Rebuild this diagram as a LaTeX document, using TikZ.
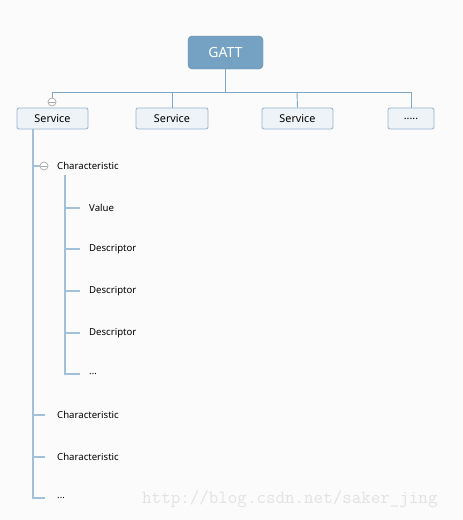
\documentclass[tikz,border=0pt]{standalone}
\usepackage{fontspec}
\setmainfont{Noto Sans}
\usetikzlibrary{calc}
\begin{document}
\begin{tikzpicture}[x=1pt,y=-1pt,
  conn/.style={draw=linec, line width=0.9pt},
  tree/.style={draw=treec, line width=1.1pt},
  svc/.style={draw=svcborder, fill=svcfill, rounded corners=2pt, line width=0.8pt, minimum height=21pt, inner sep=0pt, font=\fontsize{10.8}{12}\selectfont},
  lbl/.style={anchor=west, inner sep=0pt, font=\fontsize{9.6}{11}\selectfont},
  tog/.style={circle, draw=gray!70, fill=white, line width=0.7pt, minimum size=8pt, inner sep=0pt}]
\definecolor{linec}{HTML}{7FA6C4}
\definecolor{treec}{HTML}{A3C0D9}
\definecolor{svcborder}{HTML}{93B4CD}
\definecolor{svcfill}{HTML}{EEF3F7}
\definecolor{gattfill}{HTML}{75A2C3}
\definecolor{bg}{HTML}{FBFBFB}
\fill[bg] (0,0) rectangle (463,520);
\useasboundingbox (0,0) rectangle (463,520);
% root
\node[draw=gattfill!85!black, fill=gattfill, rounded corners=4pt, minimum width=75pt, minimum height=33pt, text=white, font=\fontsize{14}{16}\selectfont] (gatt) at (225.5,52.5) {GATT};
% services
\node[svc, minimum width=71pt] (s1) at (52.5,118.5) {Service};
\node[svc, minimum width=72pt] (s2) at (172,118.5) {Service};
\node[svc, minimum width=71pt] (s3) at (297.5,118.5) {Service};
\node[svc, minimum width=46pt] (s4) at (411,118.5) {.....};
\coordinate (bus) at (225.5,92);
\draw[conn] (gatt.south) -- (bus);
\draw[conn] (52,92) -- (411,92);
\node[tog] (t1) at (52,102) {};
\draw[conn] (52,92) -- (t1.north);
\draw[conn] (172,92) -- (s2.north);
\draw[conn] (297,92) -- (s3.north);
\draw[conn] (411,92) -- (s4.north);
\draw[gray!70, line width=0.7pt] ($(t1.west)+(1.8,0)$) -- ($(t1.east)+(-1.8,0)$);
% characteristic tree
\node[tog] (t2) at (44,166) {};
\draw[gray!70, line width=0.7pt] ($(t2.west)+(1.8,0)$) -- ($(t2.east)+(-1.8,0)$);
\node[lbl] (c1) at (57,166) {Characteristic};
\node[lbl] (v) at (89,208) {Value};
\node[lbl] (d1) at (89,249) {Descriptor};
\node[lbl] (d2) at (89,291) {Descriptor};
\node[lbl] (d3) at (89,333) {Descriptor};
\node[lbl] (e1) at (89,374) {...};
\node[lbl] (c2) at (57,415) {Characteristic};
\node[lbl] (c3) at (57,457) {Characteristic};
\node[lbl] (e2) at (57,498) {...};
\draw[tree] (33,129) -- (33,498) -- (45,498);
\draw[tree] (33,166) -- (t2.west);
\draw[tree] (33,415) -- (45,415);
\draw[tree] (33,457) -- (45,457);
\draw[tree] (65,175) -- (65,374) -- (80,374);
\draw[tree] (65,208) -- (80,208);
\draw[tree] (65,249) -- (80,249);
\draw[tree] (65,291) -- (80,291);
\draw[tree] (65,333) -- (80,333);
\node[anchor=west, inner sep=0pt, text=gray!22, font=\ttfamily\fontsize{18.5}{20}\selectfont] (wm) at (142,499) {http://blog.csdn.net/saker\_jing};
\end{tikzpicture}
\end{document}
